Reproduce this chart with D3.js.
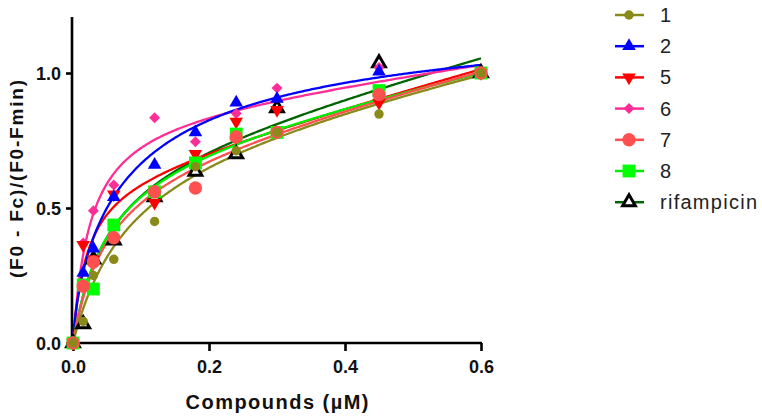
<!DOCTYPE html>
<html><head><meta charset="utf-8">
<script src="https://cdn.jsdelivr.net/npm/d3@7"></script>
<style>body{margin:0;background:#fff}svg{display:block;font-family:"Liberation Sans",Arial,sans-serif}</style>
</head><body><svg id="c" width="762" height="420"></svg>
<script>
// ---- data ----
const concentrations = [0, 0.015, 0.03, 0.06, 0.12, 0.18, 0.24, 0.3, 0.45, 0.6];
const seriesNames = ["1", "2", "5", "6", "7", "8", "rifampicin"];
const values1   = [0, 0.08, 0.25, 0.31, 0.45, 0.653, 0.712, 0.78, 0.848, 1.0];
const values2   = [0, 0.26, 0.35, 0.54, 0.66, 0.78, 0.89, 0.904, 1.005, 1.0];
const values5   = [0, 0.363, 0.31, 0.55, 0.52, 0.70, 0.82, 0.863, 0.89, 1.0];
const values6   = [0, 0.37, 0.49, 0.585, 0.834, 0.745, 0.85, 0.944, 1.02, 1.0];
const values7   = [0, 0.21, 0.30, 0.39, 0.56, 0.574, 0.763, 0.78, 0.92, 1.0];
const values8   = [0, 0.215, 0.20, 0.437, 0.56, 0.667, 0.774, 0.78, 0.935, 1.0];
const valuesRif = [0, 0.07, 0.31, 0.38, 0.54, 0.635, 0.70, 0.87, 1.037, 1.0];
// fitted-curve parameters: y = B*x^h/(K^h+x^h) + N*x
const fitB = [0.757, 1.278, 0.617, 0.86, 0.683, 0.729, 0.717];
const fitK = [0.08, 0.09, 0.02, 0.025, 0.05, 0.05, 0.05];
const fitH = [1, 0.75, 1, 1, 1, 1, 1];
const fitN = [0.541, 0, 0.695, 0.34, 0.624, 0.545, 0.654];
const xTicks = [0, 0.2, 0.4, 0.6];
const yTicks = [0, 0.5, 1.0];

const lineColors = ["#8a8a1a", "#0000ff", "#ff0000", "#ff2d96", "#ff5050", "#00ee00", "#006400"];
const markFill   = ["#8a8a1a", "#0000ff", "#ff0000", "#ff2d96", "#ff5050", "#00ff00", "#ffffff"];
const markStroke = ["none", "none", "none", "none", "none", "none", "#000"];
const markSym    = [d3.symbolCircle, d3.symbolTriangle, d3.symbolTriangle, d3.symbolSquare, d3.symbolCircle, d3.symbolSquare, d3.symbolTriangle];
const markSize   = [70, 80, 80, 60, 140, 165, 70];
const markRot    = [0, 0, 180, 45, 0, 0, 0];
const allValues = [values1, values2, values5, values6, values7, values8, valuesRif];

const svg = d3.select("#c");
const x = d3.scaleLinear().domain([0, 0.6]).range([73, 481]);
const y = d3.scaleLinear().domain([0, 1.2]).range([343, 19]);

// axes
const xAxis = svg.append("g").attr("transform", "translate(0,343)")
  .call(d3.axisBottom(x).tickValues(xTicks).tickFormat(d3.format(".1f")).tickSize(8).tickPadding(6));
const yAxis = svg.append("g").attr("transform", "translate(72,0)")
  .call(d3.axisLeft(y).tickValues(yTicks).tickFormat(d3.format(".1f")).tickSize(6).tickPadding(5));
[xAxis, yAxis].forEach(a => {
  a.select(".domain").attr("stroke", "#000").attr("stroke-width", 2.6);
  a.selectAll(".tick line").attr("stroke", "#000").attr("stroke-width", 2.6);
  a.selectAll(".tick text").attr("font-size", 18).attr("font-weight", "bold").attr("fill", "#111")
    .attr("font-family", "Liberation Sans, Arial, sans-serif");
});
xAxis.selectAll(".tick text").attr("dy", "0.75em").attr("y", 16);
yAxis.selectAll(".tick text").attr("dy", "0.35em");
xAxis.select(".domain").attr("d", "M72,0H482");
yAxis.select(".domain").attr("d", "M0,17V344");

svg.append("text").attr("x", 277).attr("y", 409).attr("text-anchor", "middle")
  .attr("font-size", 20).attr("font-weight", "bold").attr("fill", "#111")
  .attr("textLength", 183).attr("lengthAdjust", "spacing").text("Compounds (µM)");
svg.append("text").attr("transform", "translate(23,179) rotate(-90)").attr("text-anchor", "middle")
  .attr("font-size", 19).attr("font-weight", "bold").attr("fill", "#111")
  .attr("textLength", 198).attr("lengthAdjust", "spacing").text("(F0 - Fc)/(F0-Fmin)");

// curves
const drawOrder = [6, 3, 2, 1, 5, 4, 0];
const fine = d3.range(0, 301).map(i => i * 0.002);
const line = d3.line().x(d => x(d[0])).y(d => y(d[1]));
drawOrder.forEach(i => {
  const pts = fine.map(c => [c, fitB[i] * Math.pow(c, fitH[i]) / (Math.pow(fitK[i], fitH[i]) + Math.pow(c, fitH[i])) + fitN[i] * c]);
  svg.append("path").attr("d", line(pts)).attr("fill", "none")
    .attr("stroke", lineColors[i]).attr("stroke-width", 2.3);
});

// markers
function symPath(i) { return d3.symbol().type(markSym[i]).size(markSize[i])(); }
drawOrder.forEach(i => {
  svg.append("g").selectAll("path").data(allValues[i].map((v, k) => [concentrations[k], v]))
    .join("path").attr("d", symPath(i))
    .attr("transform", d => `translate(${x(d[0])},${y(d[1])}) rotate(${markRot[i]})`)
    .attr("fill", markFill[i]).attr("stroke", markStroke[i]).attr("stroke-width", i === 6 ? 3 : 0);
});

// legend
seriesNames.forEach((name, i) => {
  const ly = 15 + i * 31.2;
  const g = svg.append("g").attr("transform", `translate(0,${ly})`);
  g.append("line").attr("x1", 615).attr("x2", 644).attr("y1", 0).attr("y2", 0)
    .attr("stroke", lineColors[i]).attr("stroke-width", 2.5);
  g.append("path").attr("d", symPath(i)).attr("transform", `translate(629,0) rotate(${markRot[i]})`)
    .attr("fill", markFill[i]).attr("stroke", markStroke[i]).attr("stroke-width", i === 6 ? 3 : 0);
  const t = g.append("text").attr("x", 660).attr("y", 7).attr("font-size", 20).attr("fill", "#222").text(name);
  if (name === "rifampicin") t.attr("textLength", 97).attr("lengthAdjust", "spacing");
});
</script></body></html>
